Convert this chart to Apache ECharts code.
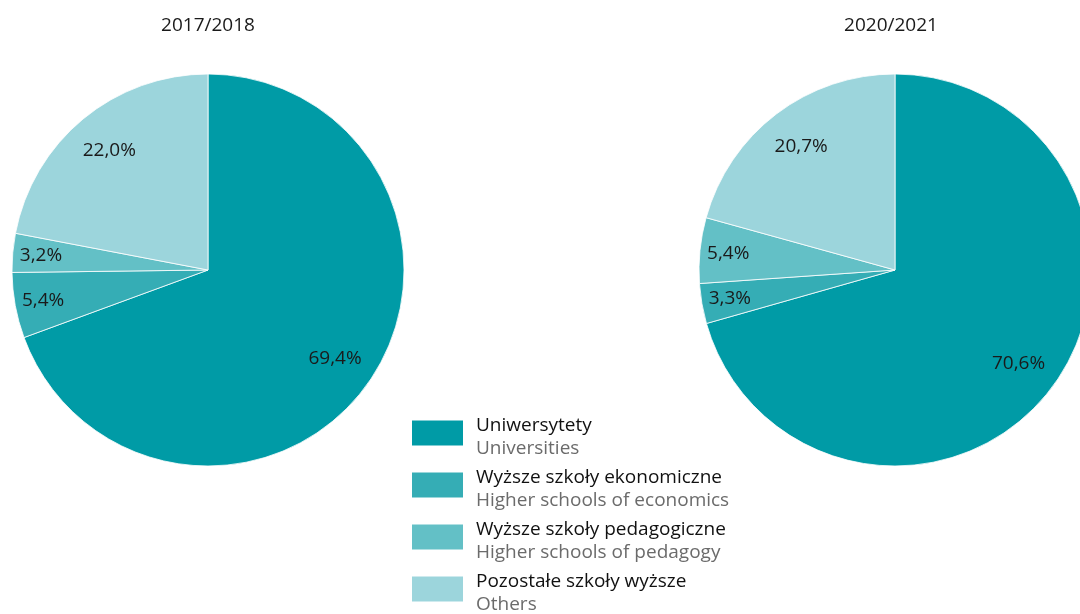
<!DOCTYPE html>
<html>
<head>
<meta charset="utf-8">
<script src="https://cdn.jsdelivr.net/npm/echarts@6/dist/echarts.min.js"></script>
<style>
  html, body { margin: 0; padding: 0; background: #ffffff; }
  #chart { width: 1080px; height: 614px; }
</style>
</head>
<body>
<div id="chart"></div>
<script>
// ============================================================================
// Data
// ============================================================================

const categoriesPl = ['Uniwersytety', 'Wyższe szkoły ekonomiczne', 'Wyższe szkoły pedagogiczne', 'Pozostałe szkoły wyższe']
const categoriesEn = ['Universities', 'Higher schools of economics', 'Higher schools of pedagogy', 'Others']
const colors = ['#009ba6', '#35adb5', '#63c0c6', '#9cd5dc']

const years = ['2017/2018', '2020/2021']
const values2017 = [69.4, 5.4, 3.2, 22.0]
const values2020 = [70.6, 3.3, 5.4, 20.7]

// ============================================================================
// Helpers
// ============================================================================

const _fontFamily = '"Open Sans", "Noto Sans", sans-serif'
const _radius = 196
const _smallSlice = 10

function _fmt(v) {
    return v.toFixed(1).replace('.', ',') + '%'
}

function _pieData(values, labelFilter) {
    return values.map((v, i) => ({
        name: categoriesPl[i],
        value: v,
        itemStyle: {color: colors[i]},
        label: {show: labelFilter ? labelFilter(v) : false}
    }))
}

// one visible pie plus two transparent rings that only carry the labels,
// so big slices get labels at ~0.78R and the thin ones further out
function _pieSeries(values, center) {
    const base = {
        type: 'pie',
        center: center,
        startAngle: 90,
        clockwise: true,
        animation: false,
    }
    const labelStyle = {
        position: 'inside',
        fontSize: 19,
        color: '#1a1a1a',
        fontFamily: _fontFamily,
        formatter: p => _fmt(p.value)
    }
    const hidden = d => ({...d, itemStyle: {color: 'rgba(0,0,0,0)', borderWidth: 0}})
    return [
        {
            ...base,
            radius: [0, _radius],
            itemStyle: {borderColor: '#ffffff', borderWidth: 0.8},
            label: {show: false},
            labelLine: {show: false},
            data: _pieData(values)
        },
        {
            ...base,
            silent: true,
            radius: [_radius * 0.55, _radius],
            label: labelStyle,
            labelLine: {show: false},
            data: _pieData(values, v => v >= _smallSlice).map(hidden)
        },
        {
            ...base,
            silent: true,
            radius: [_radius * 0.68, _radius],
            label: labelStyle,
            labelLine: {show: false},
            data: _pieData(values, v => v < _smallSlice).map(hidden)
        }
    ]
}

// ============================================================================
// Render
// ============================================================================

function main() {
    const chart = echarts.init(document.getElementById('chart'), null, {renderer: 'canvas'})
    const titleStyle = {fontSize: 19, fontWeight: 'normal', color: '#1a1a1a', fontFamily: _fontFamily}
    const option = {
        backgroundColor: '#ffffff',
        animation: false,
        title: [
            {text: years[0], left: 203, top: 11, textAlign: 'center', textStyle: titleStyle},
            {text: years[1], left: 886, top: 11, textAlign: 'center', textStyle: titleStyle}
        ],
        legend: {
            orient: 'vertical',
            left: 410,
            top: 416,
            padding: 0,
            itemWidth: 53,
            itemHeight: 27,
            itemGap: 10,
            selectedMode: false,
            icon: 'rect',
            data: categoriesPl.map((n, i) => ({name: n, itemStyle: {color: colors[i]}})),
            formatter: name => {
                const i = categoriesPl.indexOf(name)
                return '{pl|' + name + '}\n{en|' + categoriesEn[i] + '}'
            },
            textStyle: {
                padding: [8, 0, 0, 7],
                rich: {
                    pl: {fontSize: 19, lineHeight: 23, color: '#111111', fontFamily: _fontFamily},
                    en: {fontSize: 19, lineHeight: 23, color: '#6b6b6b', fontFamily: _fontFamily}
                }
            }
        },
        series: [
            ..._pieSeries(values2017, [208, 270]),
            ..._pieSeries(values2020, [895, 270])
        ]
    }
    chart.setOption(option)
}

main()
</script>
</body>
</html>
